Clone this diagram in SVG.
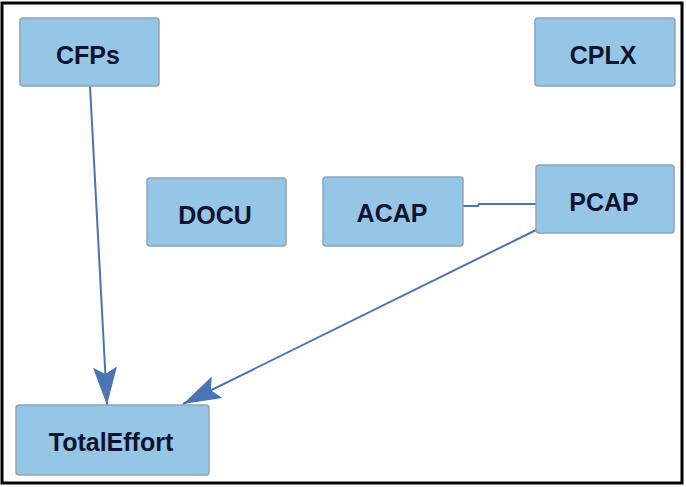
<svg xmlns="http://www.w3.org/2000/svg" width="686" height="487" viewBox="0 0 686 487">
  <style>
    .node rect { fill: #95c6e6; stroke: #8ea4b4; stroke-width: 1.5; }
    .node text { font-family: "Liberation Sans", Arial, sans-serif; font-weight: bold; font-size: 25px; fill: #10122e; text-anchor: middle; }
    .edge { stroke: #4a74b4; stroke-width: 2; fill: none; }
    .head { fill: #4a74b4; }
  </style>
  <defs>
    <marker id="arrow" viewBox="0 0 38 26" refX="38" refY="13" markerWidth="38" markerHeight="26" markerUnits="userSpaceOnUse" orient="auto">
      <path class="head" d="M0,1 L7,13 L0,25 L38,13 Z"/>
    </marker>
  </defs>
  <rect x="2" y="3" width="680" height="480" fill="#ffffff" stroke="#000000" stroke-width="3"/>

  <g id="connectors">
    <path class="edge" d="M90,86 L107,405" marker-end="url(#arrow)"/>
    <path class="edge" d="M536,230 L183,404" marker-end="url(#arrow)"/>
    <path class="edge" d="M463,206 L478,206 L479,204 L536,204"/>
  </g>

  <g id="CFPs" class="node">
    <rect x="20" y="18" width="139" height="68" rx="3"/>
    <text x="88" y="64">CFPs</text>
  </g>
  <g id="CPLX" class="node">
    <rect x="535" y="18" width="140" height="68" rx="3"/>
    <text x="603" y="64">CPLX</text>
  </g>
  <g id="DOCU" class="node">
    <rect x="147" y="178" width="139" height="68" rx="3"/>
    <text x="215" y="224">DOCU</text>
  </g>
  <g id="ACAP" class="node">
    <rect x="323" y="177" width="140" height="69" rx="3"/>
    <text x="392" y="222">ACAP</text>
  </g>
  <g id="PCAP" class="node">
    <rect x="536" y="165" width="138" height="68" rx="3"/>
    <text x="604" y="211">PCAP</text>
  </g>
  <g id="TotalEffort" class="node">
    <rect x="16" y="405" width="193" height="70" rx="3"/>
    <text x="111" y="451">TotalEffort</text>
  </g>
</svg>
